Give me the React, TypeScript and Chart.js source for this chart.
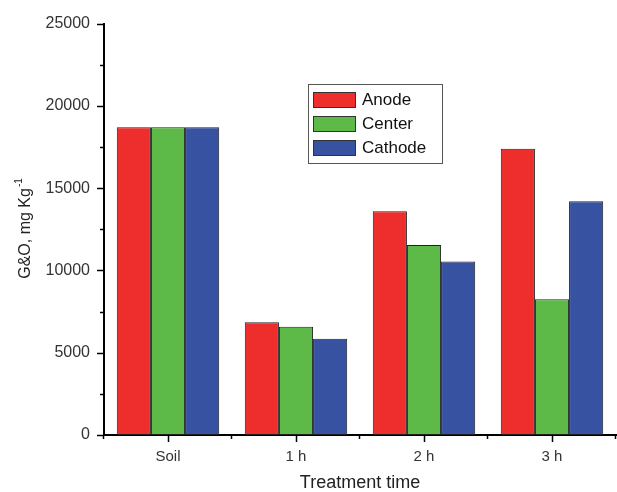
import React, { useEffect, useRef } from "react";
import { Chart, registerables } from "chart.js";

Chart.register(...registerables);

const categories = ["Soil", "1 h", "2 h", "3 h"];
const anode = [18700, 6850, 13600, 17400];
const center = [18700, 6580, 11550, 8250];
const cathode = [18700, 5850, 10550, 14200];
const yTicks = [0, 5000, 10000, 15000, 20000, 25000];
const seriesNames = ["Anode", "Center", "Cathode"];
const colors = ["rgb(238,46,44)", "rgb(94,186,72)", "rgb(54,82,160)"];

const FONT = "'Liberation Sans', Arial, sans-serif";

const decor = {
  id: "decor",
  afterDraw(chart: any) {
    const ctx = chart.ctx as CanvasRenderingContext2D;
    const area = chart.chartArea;
    const x = chart.scales.x;
    const y = chart.scales.y;
    ctx.save();
    ctx.strokeStyle = "#000";
    ctx.lineWidth = 1.5;
    for (let v = 0; v <= 25000; v += 2500) {
      const py = Math.round(y.getPixelForValue(v)) + 0.5;
      const len = v % 5000 === 0 ? 7 : 4;
      ctx.beginPath();
      ctx.moveTo(area.left, py);
      ctx.lineTo(area.left - len, py);
      ctx.stroke();
    }
    const n = categories.length;
    for (let i = 0; i < n; i++) {
      const px = Math.round(x.getPixelForValue(i)) + 0.5;
      ctx.beginPath();
      ctx.moveTo(px, area.bottom);
      ctx.lineTo(px, area.bottom + 7);
      ctx.stroke();
    }
    for (let i = 0; i <= n; i++) {
      const px = Math.round(x.getPixelForValue(i - 0.5)) - 0.5;
      ctx.beginPath();
      ctx.moveTo(px, area.bottom);
      ctx.lineTo(px, area.bottom + 4);
      ctx.stroke();
    }
    ctx.fillStyle = "#222";
    ctx.font = `18px ${FONT}`;
    ctx.textAlign = "center";
    ctx.textBaseline = "middle";
    ctx.fillText("Treatment time", 360, 483);
    ctx.save();
    ctx.translate(24, 229);
    ctx.rotate(-Math.PI / 2);
    ctx.font = `16px ${FONT}`;
    const main = "G&O, mg Kg";
    const wMain = ctx.measureText(main).width;
    ctx.font = `10px ${FONT}`;
    const sup = "-1";
    const wSup = ctx.measureText(sup).width;
    const total = wMain + wSup;
    ctx.textAlign = "left";
    ctx.textBaseline = "alphabetic";
    ctx.font = `16px ${FONT}`;
    ctx.fillText(main, -total / 2, 6);
    ctx.font = `10px ${FONT}`;
    ctx.fillText(sup, -total / 2 + wMain + 1, -2);
    ctx.restore();
    ctx.fillStyle = "#fff";
    ctx.fillRect(308, 84, 134, 79);
    ctx.strokeStyle = "#555";
    ctx.lineWidth = 1;
    ctx.strokeRect(308.5, 84.5, 134, 79);
    for (let i = 0; i < seriesNames.length; i++) {
      const top = 92 + i * 24;
      ctx.fillStyle = colors[i];
      ctx.fillRect(313, top, 43, 16);
      ctx.strokeStyle = "#333";
      ctx.strokeRect(313.5, top + 0.5, 42, 15);
      ctx.fillStyle = "#111";
      ctx.font = `17px ${FONT}`;
      ctx.textAlign = "left";
      ctx.textBaseline = "middle";
      ctx.fillText(seriesNames[i], 362, top + 8.5);
    }
    ctx.restore();
  },
};

export default function App() {
  const ref = useRef<HTMLCanvasElement>(null);
  useEffect(() => {
    if (!ref.current) return;
    const datasets = [anode, center, cathode].map((d, i) => ({
      label: seriesNames[i],
      data: d,
      backgroundColor: colors[i],
      borderColor: "#222",
      borderWidth: 1,
      borderSkipped: false,
      barPercentage: 1,
      categoryPercentage: 0.8,
    }));
    const chart = new Chart(ref.current, {
      type: "bar",
      data: { labels: categories, datasets },
      options: {
        responsive: false,
        animation: false,
        layout: { padding: { top: 20, right: 1, left: 0, bottom: 0 } },
        plugins: { legend: { display: false }, tooltip: { enabled: false } },
        scales: {
          x: {
            offset: true,
            grid: { display: false, drawTicks: false },
            border: { display: true, color: "#000", width: 2 },
            ticks: { font: { size: 15, family: FONT }, color: "#333", padding: 13 },
            afterFit: (s: any) => {
              s.height = 57;
            },
          },
          y: {
            min: 0,
            max: 25000,
            afterBuildTicks: (s: any) => {
              s.ticks = yTicks.map((v) => ({ value: v }));
            },
            grid: { display: false, drawTicks: false },
            border: { display: true, color: "#000", width: 2 },
            ticks: {
              font: { size: 16, family: FONT },
              color: "#333",
              padding: 14,
              callback: (v: any) => String(v),
            },
            afterFit: (s: any) => {
              s.width = 104;
            },
          },
        },
      },
      plugins: [decor],
    });
    return () => chart.destroy();
  }, []);
  return (
    <div style={{ position: "fixed", left: 0, top: 0, width: 617, height: 492, background: "#fff" }}>
      <canvas ref={ref} width={617} height={492} />
    </div>
  );
}
